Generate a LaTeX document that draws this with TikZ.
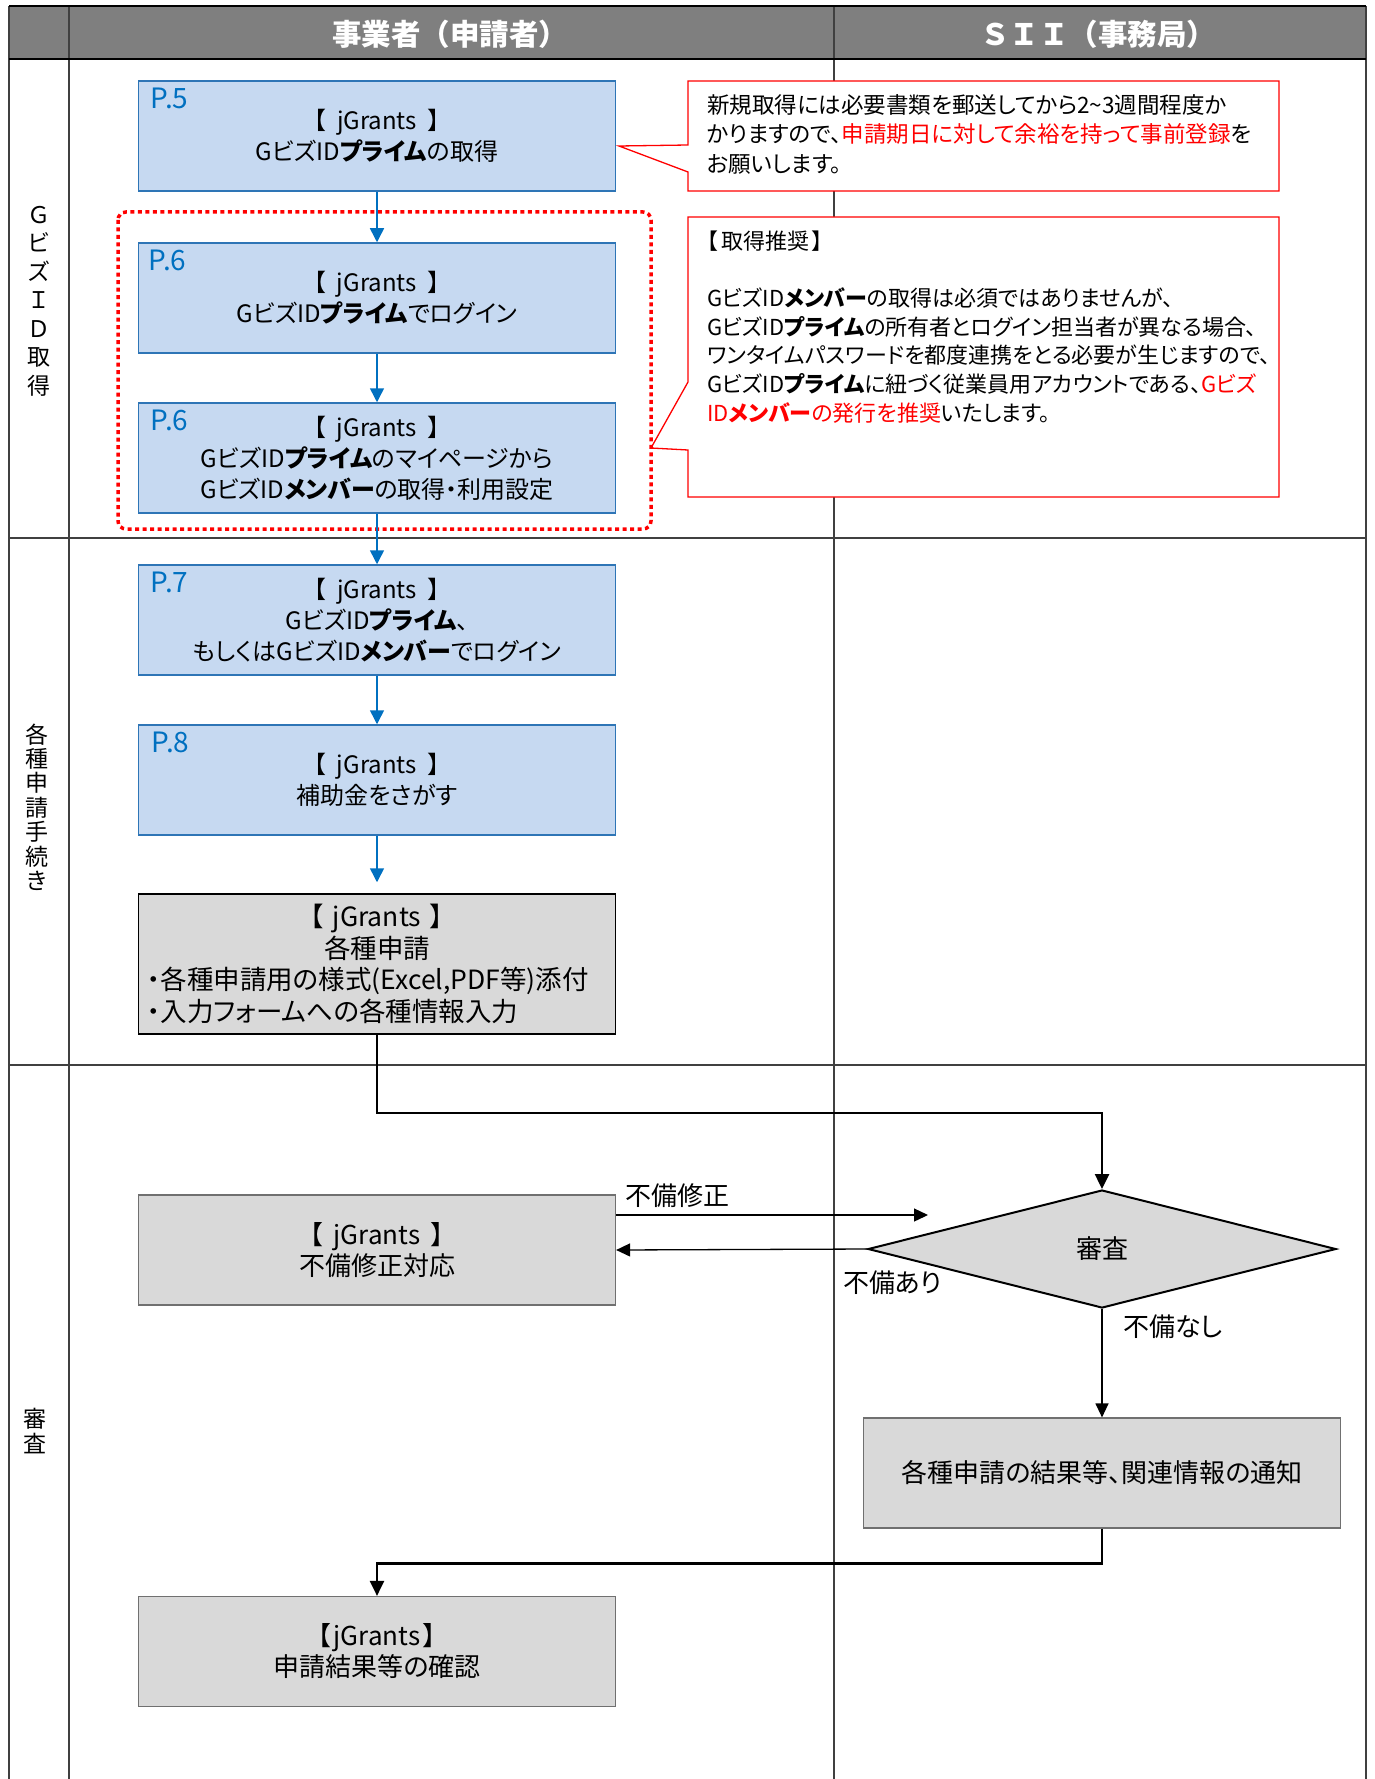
\documentclass[tikz,border=0pt]{standalone}
\usepackage{fontspec}
\setmainfont{Noto Sans CJK JP}[RawFeature=+palt]
\newfontfamily\hdrfont{Noto Sans CJK JP}
\newcommand\jgr[1]{【\hspace{#1}jGrants\hspace{#1}】}
\usetikzlibrary{arrows.meta,shapes.geometric}
\definecolor{bxfill}{HTML}{C6D9F1}
\definecolor{bxline}{HTML}{2E75B6}
\definecolor{arblue}{HTML}{0070C0}
\definecolor{gfill}{HTML}{D9D9D9}
\definecolor{gline}{HTML}{707070}
\definecolor{hdrgrey}{HTML}{7F7F7F}
\definecolor{tline}{HTML}{404040}
\begin{document}
\begin{tikzpicture}[x=1pt,y=-1pt,
  bluebox/.style={draw=bxline, fill=bxfill, line width=1.5pt, minimum width=477pt, minimum height=110pt, align=center, font=\fontsize{24}{31}\selectfont, inner sep=0pt},
  greybox/.style={draw=gline, fill=gfill, line width=1.2pt, minimum width=477pt, minimum height=110pt, align=center, font=\fontsize{26}{31}\selectfont, inner sep=0pt},
  plabel/.style={text=arblue, font=\fontsize{28}{30}\selectfont, anchor=west, inner sep=0pt},
  barrow/.style={draw=arblue, line width=1.5pt, -{Triangle[length=14pt,width=14pt]}},
  karrow/.style={draw=black, line width=2.5pt, -{Triangle[length=15pt,width=14pt]}},
  tarrow/.style={draw=black, line width=1.3pt, -{Triangle[length=14pt,width=13pt]}},
  lane/.style={align=center, font=\fontsize{23}{28.5}\selectfont, inner sep=0pt},
  note/.style={align=left, anchor=west, font=\fontsize{22.5}{29.5}\selectfont, inner sep=0pt},
  lbl/.style={anchor=west, font=\fontsize{26}{28}\selectfont, inner sep=0pt},
  hdr/.style={text=white, font=\hdrfont\bfseries\fontsize{29.5}{30}\selectfont, inner sep=0pt},
  callout/.style={draw=red, line width=1.3pt, fill=white}
]
\useasboundingbox (0,0) rectangle (1375,1779);
% table
\fill[hdrgrey] (9,6) rectangle (1366,59);
\draw[tline, line width=1.5pt] (9,6) -- (9,1779) (69,6) -- (69,1779) (834,6) -- (834,1779) (1366,6) -- (1366,1779);
\draw[tline, line width=1.5pt] (9,538) -- (1366,538) (9,1065) -- (1366,1065);
\draw[black, line width=2pt] (9,6) -- (1366,6) (9,59) -- (1366,59);
\node[hdr] (h1) at (450,34) {事業者（申請者）};
\node[hdr] (h2) at (1098,34) {ＳＩＩ（事務局）};
% lanes
\node[lane] (l1) at (39,301) {Ｇ\\ビ\\ズ\\Ｉ\\Ｄ\\取\\得};
\node[lane, font=\fontsize{23}{24.4}\selectfont] (l2) at (37,807) {各\\種\\申\\請\\手\\続\\き};
\node[lane, font=\fontsize{23}{25}\selectfont] (l3) at (35,1431) {審\\査};
% callouts
\draw[callout] (688,81) -- (1279,81) -- (1279,191) -- (688,191) -- (688,172) -- (619,146) -- (688,145) -- cycle;
\node[note] (c1) at (707,134) {新規取得には必要書類を郵送してから2\textasciitilde 3週間程度か\\かりますので、\textcolor{red}{申請期日に対して余裕を持って事前登録}を\\お願いします。};
\draw[callout] (688,217) -- (1279,217) -- (1279,497) -- (688,497) -- (688,450) -- (651,448) -- (688,382) -- cycle;
\node[note, font=\fontsize{22}{28.6}\selectfont] (c2) at (707,327) {【\hspace{3pt}取得推奨\hspace{3pt}】\\\mbox{}\\GビズID\textbf{メンバー}の取得は必須ではありませんが、\\GビズID\textbf{プライム}の所有者とログイン担当者が異なる場合、\\ワンタイムパスワードを都度連携をとる必要が生じますので、\\GビズID\textbf{プライム}に紐づく従業員用アカウントである、\textcolor{red}{Gビズ}\\\textcolor{red}{ID\textbf{メンバー}の発行を推奨}いたします。};
% dotted group
\draw[red, line width=3.5pt, dash pattern=on 4pt off 3.5pt, rounded corners=8pt] (118,212) rectangle (651,529);
% blue boxes
\node[bluebox] (b1) at (377,136) {\jgr{0.45em}\\GビズID\textbf{プライム}の取得};
\node[bluebox] (b2) at (377,298) {\jgr{0.45em}\\GビズID\textbf{プライム}でログイン};
\node[bluebox] (b3) at (377,458) {\jgr{0.45em}\\GビズID\textbf{プライム}のマイページから\\GビズID\textbf{メンバー}の取得・利用設定};
\node[bluebox] (b4) at (377,620) {\jgr{0.45em}\\GビズID\textbf{プライム}、\\もしくはGビズID\textbf{メンバー}でログイン};
\node[bluebox] (b5) at (377,780) {\jgr{0.45em}\\補助金をさがす};
\node[plabel] (p1) at ([xshift=13pt,yshift=-18pt]b1.north west) {P.5};
\node[plabel] (p2) at ([xshift=11pt,yshift=-18pt]b2.north west) {P.6};
\node[plabel] (p3) at ([xshift=13pt,yshift=-18pt]b3.north west) {P.6};
\node[plabel] (p4) at ([xshift=13pt,yshift=-18pt]b4.north west) {P.7};
\node[plabel] (p5) at ([xshift=14pt,yshift=-18pt]b5.north west) {P.8};
% grey boxes
\node[greybox, draw=black, line width=1.5pt, minimum height=140pt, text width=459pt, align=left, font=\fontsize{26.5}{31.5}\selectfont] (b6) at (377,964) {\makebox[459pt]{\jgr{0.35em}}\\\makebox[459pt]{各種申請}\\・各種申請用の様式(Excel,PDF等)添付\\・入力フォームへの各種情報入力};
\node[greybox] (b7) at (377,1250) {\jgr{0.4em}\\不備修正対応};
\node[diamond, draw=black, line width=2pt, fill=gfill, minimum width=468pt, minimum height=118pt, inner sep=0pt, font=\fontsize{26}{28}\selectfont] (d) at (1102,1249) {審査};
\node[greybox] (r) at (1102,1473) {各種申請の結果等、関連情報の通知};
\node[greybox] (f) at (377,1651.5) {\jgr{0.1em}\\申請結果等の確認};
% blue arrows
\draw[barrow] (b1) -- (b2);
\draw[barrow] (b2) -- (b3);
\draw[barrow] (b3) -- (b4);
\draw[barrow] (b4) -- (b5);
\draw[barrow, shorten >=11pt] (b5) -- (b6);
% black connectors
\draw[karrow] (b6.south) -- ++(0,78) -| (d.north);
\coordinate (fx) at (928,1215);
\draw[tarrow] ([yshift=35pt]b7.east) -- (fx);
\draw[tarrow] (d.west) -- (b7.east);
\draw[tarrow] (d.south) -- (r.north);
\draw[karrow] (r.south) -- ++(0,35) -| (f.north);
% labels
\node[lbl] (t1) at (625,1196) {不備修正};
\node[lbl] (t2) at (843,1283) {不備あり};
\node[lbl] (t3) at (1123,1327) {不備なし};
\end{tikzpicture}
\end{document}
